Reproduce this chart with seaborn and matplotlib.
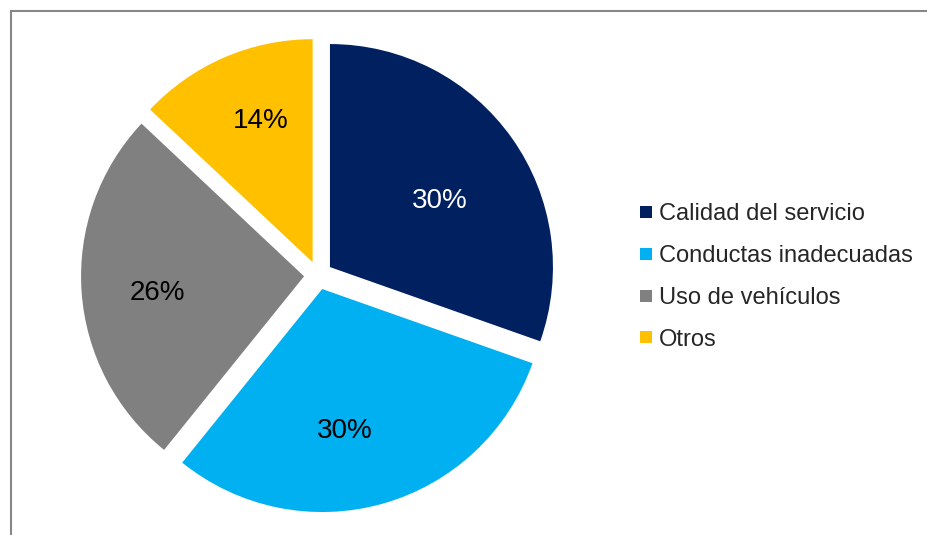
import matplotlib
matplotlib.use("Agg")
import numpy as np
import matplotlib.pyplot as plt
import seaborn as sns
from matplotlib.lines import Line2D
from matplotlib.patches import Rectangle

categories = ["Calidad del servicio", "Conductas inadecuadas", "Uso de vehículos", "Otros"]
# wedge shares as drawn in the reference, and the percentage labels it prints
shares = [30.4, 30.4, 26.2, 13.0]
pct_labels = ["30%", "30%", "26%", "14%"]
colors_hex = ["#002060", "#00B0F0", "#808080", "#FFC000"]
label_colors = ["white", "black", "black", "black"]

# label placement style (fraction of radius, angular offset in degrees)
label_r = [0.58, 0.63, 0.66, 0.69]
label_dtheta = [-3.0, -6.6, 1.3, -3.5]

sns.set_theme(style="white")
plt.rcParams["font.family"] = ["Liberation Sans", "DejaVu Sans"]
palette = sns.color_palette(colors_hex)

W, H = 927, 535
fig = plt.figure(figsize=(W / 100, H / 100), dpi=100)
fig.patch.set_facecolor("white")

cx, cy = 318.3, H - 275.3
R_px = 223
half = 262
ax = fig.add_axes([(cx - half) / W, (cy - half) / H, 2 * half / W, 2 * half / H])
wedges, _ = ax.pie(
    shares,
    colors=palette,
    startangle=90,
    counterclock=False,
    explode=[0.064] * len(shares),
    wedgeprops=dict(linewidth=0),
)
for w, lab, col, r, dt in zip(wedges, pct_labels, label_colors, label_r, label_dtheta):
    ang = np.deg2rad((w.theta1 + w.theta2) / 2 + dt)
    x0, y0 = w.center
    ax.text(x0 + r * np.cos(ang), y0 + r * np.sin(ang), lab, color=col,
            fontsize=20, ha="center", va="center_baseline")

ax.set_xlim(-half / R_px, half / R_px)
ax.set_ylim(-half / R_px, half / R_px)
ax.set_aspect("equal")
ax.axis("off")

# outer border (top and left visible)
fig.patches.append(
    Rectangle((10.5 / W, -0.1), (W + 50) / W, 1.1 - 10.5 / H,
              transform=fig.transFigure, fill=False,
              edgecolor="#878787", linewidth=1.5, zorder=0)
)

handles = [Line2D([], [], marker="s", linestyle="none", markersize=8.6,
                  markerfacecolor=c, markeredgewidth=0) for c in palette]
fig.legend(handles, categories, loc="center left",
           bbox_to_anchor=(639 / W, (H - 277) / H), frameon=False,
           fontsize=17, handlelength=0.6, handletextpad=0.25,
           labelspacing=0.84, borderpad=0, borderaxespad=0)

fig.savefig("out.png", dpi=100)
